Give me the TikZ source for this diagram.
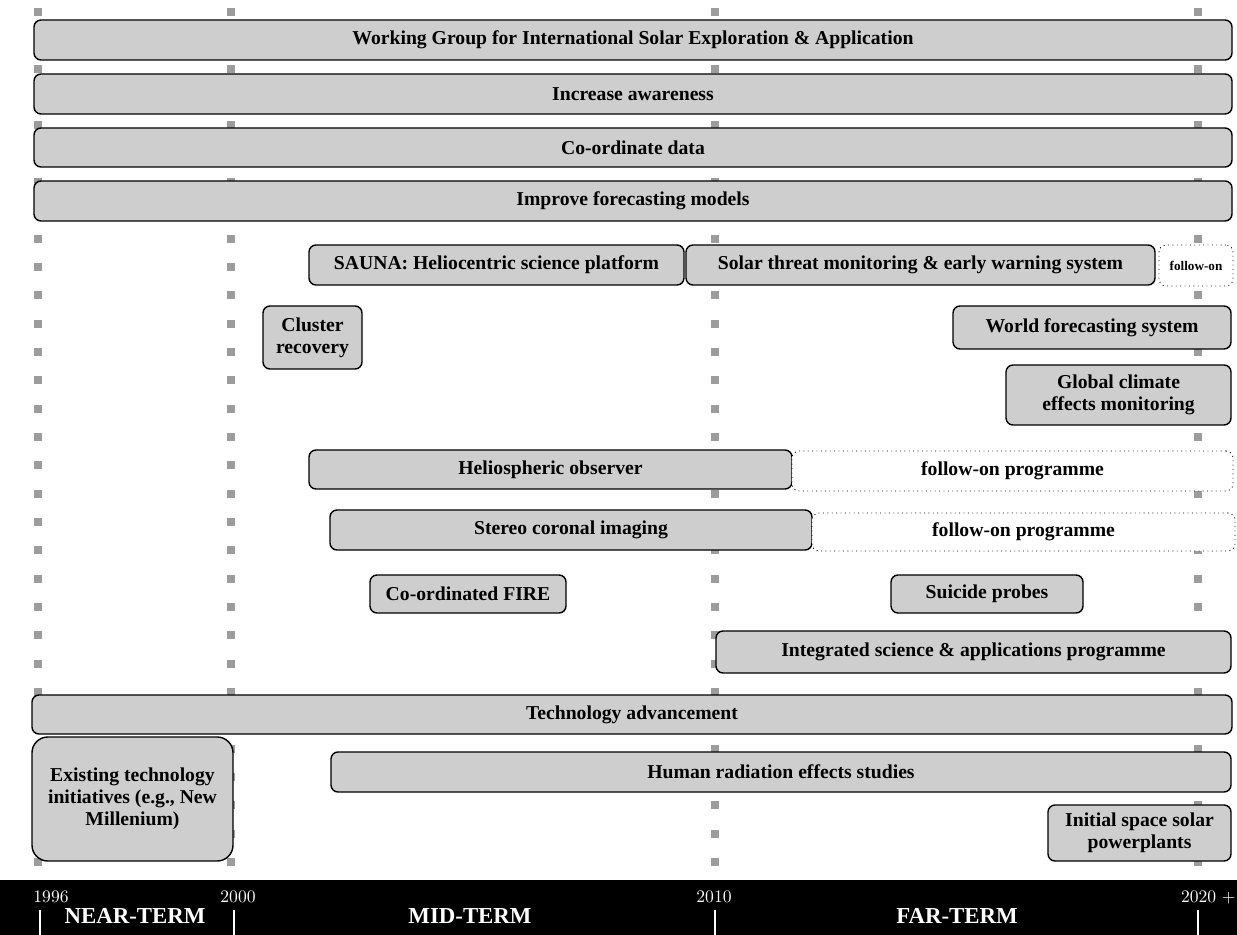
\documentclass[tikz,border=0pt]{standalone}
\usepackage{fontspec}
\newfontfamily\boxfont{Liberation Serif}
\definecolor{barfill}{RGB}{206,206,206}
\definecolor{gridgray}{RGB}{156,156,156}

\tikzset{
  plan/.style={draw=black, line width=0.8pt, fill=barfill, rounded corners=4pt,
    inner sep=1pt, font=\boxfont\bfseries\fontsize{11.2}{12.5}\selectfont, align=center},
  followon/.style={plan, draw=black, line width=0.5pt, dotted, fill=white},
  gridsq/.style={fill=gridgray},
  yearlbl/.style={text=white, font=\fontsize{10}{12}\selectfont, inner sep=0pt},
  termlbl/.style={text=white, font=\boxfont\bfseries\fontsize{13}{15}\selectfont, inner sep=0pt}
}

% box from (x1,y1) to (x2,y2), pixel units
\newcommand{\planbox}[7][plan]{%
  \node[#1, minimum width={(#5-#3)*0.02cm}, minimum height={(#6-#4)*0.02cm}]
    (#2) at ({(#3+#5)/2},{(#4+#6)/2}) {#7};}

\begin{document}
\begin{tikzpicture}[x=0.02cm, y=-0.02cm]
\useasboundingbox (0,0) rectangle (1237,935);

% grid markers
\foreach \gx in {38,231,715,1198}
  \foreach \k in {0,...,30}
    \fill[gridsq] ({\gx-4},{12+28.33*\k-4}) rectangle ++(8,8);

\planbox{wg}{34}{20}{1232}{60}{Working Group for International Solar Exploration \& Application}
\planbox{aware}{34}{74}{1232}{114}{Increase awareness}
\planbox{coord}{34}{128}{1232}{167}{Co-ordinate data}
\planbox{forecast}{34}{181}{1232}{221}{Improve forecasting models}
\planbox{sauna}{309}{245}{684}{285}{SAUNA: Heliocentric science platform}
\planbox{threat}{686}{245}{1155}{285}{Solar threat monitoring \& early warning system}
\planbox[followon]{threatnext}{1159}{245}{1233}{286}{\fontsize{7.5}{8}\selectfont follow-on}
\planbox{cluster}{263}{306}{362}{369}{Cluster\\recovery}
\planbox{world}{953}{306}{1231}{349}{World forecasting system}
\planbox{climate}{1006}{365}{1231}{425}{Global climate\\effects monitoring}
\planbox{helio}{309}{450}{792}{489}{Heliospheric observer}
\planbox[followon]{helionext}{792}{451}{1233}{491}{follow-on programme}
\planbox{stereo}{330}{510}{812}{550}{Stereo coronal imaging}
\planbox[followon]{stereonext}{812}{513}{1235}{551}{follow-on programme}
\planbox{fire}{370}{575}{566}{613}{Co-ordinated FIRE}
\planbox{suicide}{891}{575}{1083}{613}{Suicide probes}
\planbox{integ}{716}{631}{1231}{673}{Integrated science \& applications programme}
\planbox{tech}{32}{695}{1232}{734}{Technology advancement}
\planbox[plan, rounded corners=9pt]{existing}{32}{737}{233}{861}{Existing technology\\initiatives (e.g., New\\Millenium)}
\planbox{human}{331}{752}{1231}{792}{Human radiation effects studies}
\planbox{solar}{1048}{805}{1231}{861}{Initial space solar\\powerplants}

% time axis
\fill[black] (0,880) rectangle (1237,935);
\node[yearlbl] (y1996) at (51,897) {1996};
\node[yearlbl] (y2000) at (238,897) {2000};
\node[yearlbl] (y2010) at (714,897) {2010};
\node[yearlbl, anchor=east] (y2020) at (1236,897) {2020 +};
\foreach \tx in {40,234,715,1198}
  \draw[white, line width=0.6pt] (\tx,910) -- (\tx,935);
\node[termlbl] (near) at (135,916) {NEAR-TERM};
\node[termlbl] (mid) at (470,916) {MID-TERM};
\node[termlbl] (far) at (957,916) {FAR-TERM};
\end{tikzpicture}
\end{document}
